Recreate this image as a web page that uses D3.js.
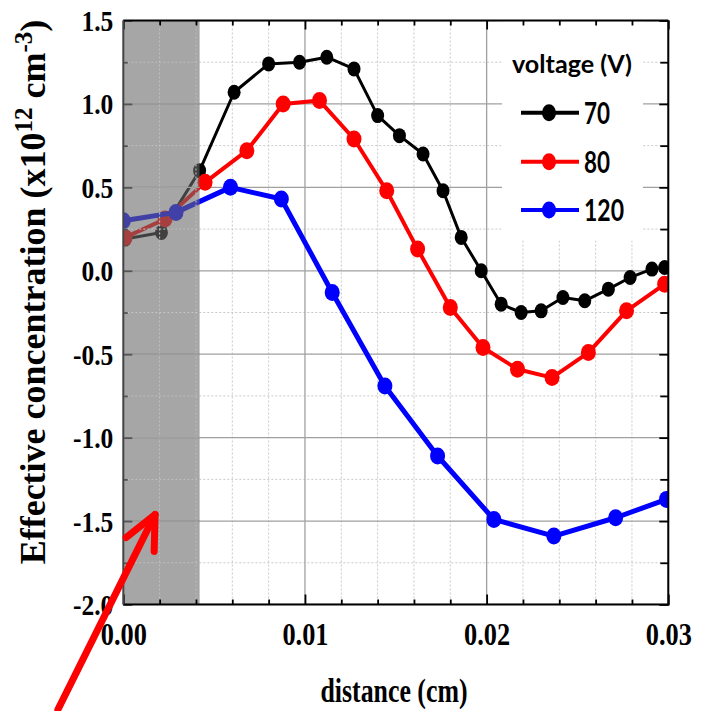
<!DOCTYPE html>
<html>
<head>
<meta charset="utf-8">
<script src="https://cdn.jsdelivr.net/npm/d3@7"></script>
<style>
  html, body { margin: 0; padding: 0; background: #fff; overflow: hidden; }
  svg { display: block; }
</style>
</head>
<body>
<svg id="chart" width="704" height="711"></svg>
<script>
// ---- data: effective concentration (x10^12 cm^-3) vs distance (cm) ----
const distance70 = [0.0001, 0.0021, 0.0042, 0.0061, 0.0080, 0.0097, 0.0112, 0.0127, 0.0140, 0.0152, 0.0165, 0.0176,
                    0.0186, 0.0197, 0.0208, 0.0219, 0.0230, 0.0242, 0.0254, 0.0267, 0.0279, 0.0291, 0.0298];
const conc70     = [0.19, 0.23, 0.60, 1.07, 1.24, 1.25, 1.28, 1.21, 0.93, 0.81, 0.70, 0.48,
                    0.20, 0.00, -0.20, -0.25, -0.24, -0.16, -0.18, -0.11, -0.04, 0.01, 0.02];

const distance80 = [0.0001, 0.0023, 0.0045, 0.0068, 0.0088, 0.0108, 0.0127, 0.0145, 0.0162, 0.0180, 0.0198, 0.0217,
                    0.0236, 0.0256, 0.0277, 0.0298];
const conc80     = [0.20, 0.31, 0.53, 0.72, 1.00, 1.02, 0.79, 0.48, 0.13, -0.22, -0.46, -0.59,
                    -0.64, -0.49, -0.24, -0.08];

const distance120 = [0.0000, 0.0029, 0.0059, 0.0087, 0.0115, 0.0144, 0.0173, 0.0204, 0.0237, 0.0271, 0.0299];
const conc120     = [0.30, 0.35, 0.50, 0.43, -0.13, -0.69, -1.11, -1.49, -1.59, -1.48, -1.37];

const voltages     = ["70", "80", "120"];
const seriesColors = ["#000000", "#ff0000", "#0000ff"];

const xTicks      = [0, 0.01, 0.02, 0.03];
const xTickLabels = ["0.00", "0.01", "0.02", "0.03"];
const yTicks      = [-2.0, -1.5, -1.0, -0.5, 0.0, 0.5, 1.0, 1.5];
const yTickLabels = ["-2.0", "-1.5", "-1.0", "-0.5", "0.0", "0.5", "1.0", "1.5"];
const xMinorTicks = [0.002, 0.004, 0.006, 0.008, 0.012, 0.014, 0.016, 0.018, 0.022, 0.024, 0.026, 0.028];
const yMinorTicks = [-1.75, -1.25, -0.75, -0.25, 0.25, 0.75, 1.25];

// shaded region near the surface (distance range, cm)
const shadedRange = [0, 0.0042];
// arrow annotation pointing into the shaded region (data coordinates)
const arrowTail = [-0.0036, -2.63];
const arrowTip  = [0.00175, -1.46];

// ---- layout ----
const W = 704, H = 711;
const plot = { left: 123.3, right: 668.3, top: 20.5, bottom: 604.5 };
const SERIF = "'Liberation Serif','Times New Roman',Times,serif";
const SANS  = "Lato,'Open Sans','Noto Sans',sans-serif";

const x = d3.scaleLinear().domain([0, 0.03]).range([plot.left, plot.right]);
const y = d3.scaleLinear().domain([-2, 1.5]).range([plot.bottom, plot.top]);

const svg = d3.select("#chart");
svg.append("rect").attr("width", W).attr("height", H).attr("fill", "#fff");

const defs = svg.append("defs");
defs.append("clipPath").attr("id", "plotClip")
  .append("rect").attr("x", plot.left).attr("y", plot.top)
  .attr("width", plot.right - plot.left).attr("height", plot.bottom - plot.top);
defs.append("clipPath").attr("id", "shadeClip")
  .append("rect").attr("x", x(shadedRange[0])).attr("y", plot.top)
  .attr("width", x(shadedRange[1]) - x(shadedRange[0])).attr("height", plot.bottom - plot.top);

// ---- gridlines ----
function drawGrid(g) {
  g.selectAll("line.xminor").data(xMinorTicks).join("line").attr("class", "xminor")
    .attr("x1", d => x(d)).attr("x2", d => x(d)).attr("y1", plot.top).attr("y2", plot.bottom)
    .attr("stroke", "#c8c8c8").attr("stroke-width", 1).attr("stroke-dasharray", "2,2");
  g.selectAll("line.yminor").data(yMinorTicks).join("line").attr("class", "yminor")
    .attr("x1", plot.left).attr("x2", plot.right).attr("y1", d => y(d)).attr("y2", d => y(d))
    .attr("stroke", "#c8c8c8").attr("stroke-width", 1).attr("stroke-dasharray", "2,2");
  g.selectAll("line.xmajor").data(xTicks).join("line").attr("class", "xmajor")
    .attr("x1", d => x(d)).attr("x2", d => x(d)).attr("y1", plot.top).attr("y2", plot.bottom)
    .attr("stroke", "#a0a0a0").attr("stroke-width", 1.3);
  g.selectAll("line.ymajor").data(yTicks).join("line").attr("class", "ymajor")
    .attr("x1", plot.left).attr("x2", plot.right).attr("y1", d => y(d)).attr("y2", d => y(d))
    .attr("stroke", "#a0a0a0").attr("stroke-width", 1.3);
}
drawGrid(svg.append("g").attr("clip-path", "url(#plotClip)"));

// legend panel hides the grid behind it
svg.append("rect").attr("x", 502).attr("y", plot.top + 1).attr("width", 141).attr("height", 219).attr("fill", "#fff");

// ---- series ----
const series = [
  { xs: distance70,  ys: conc70,  color: seriesColors[0], width: 3,   rx: 6.5, ry: 7.5 },
  { xs: distance80,  ys: conc80,  color: seriesColors[1], width: 4,   rx: 7.5, ry: 8.5 },
  { xs: distance120, ys: conc120, color: seriesColors[2], width: 5,   rx: 7.5, ry: 8.5 }
];
const line = d3.line().x(d => x(d[0])).y(d => y(d[1]));
const dataG = svg.append("g").attr("clip-path", "url(#plotClip)");
series.forEach(s => {
  const pts = s.xs.map((d, i) => [d, s.ys[i]]);
  dataG.append("path").datum(pts).attr("d", line)
    .attr("fill", "none").attr("stroke", s.color).attr("stroke-width", s.width)
    .attr("stroke-linejoin", "round");
  dataG.selectAll(null).data(pts).join("ellipse")
    .attr("cx", d => x(d[0])).attr("cy", d => y(d[1]))
    .attr("rx", s.rx).attr("ry", s.ry).attr("fill", s.color);
});

// ---- translucent grey band over the near-surface region ----
svg.append("rect")
  .attr("x", x(shadedRange[0])).attr("y", plot.top)
  .attr("width", x(shadedRange[1]) - x(shadedRange[0])).attr("height", plot.bottom - plot.top)
  .attr("fill", "rgb(107,107,107)").attr("fill-opacity", 0.6);
drawGrid(svg.append("g").attr("clip-path", "url(#shadeClip)"));

// ---- axes (ticks point inward on all four sides) ----
function styleAxis(g, color) {
  g.select(".domain").remove();
  g.selectAll(".tick line").attr("stroke", color).attr("stroke-width", 1.8);
}
const leftMajor = svg.append("g").attr("transform", `translate(${plot.left},0)`)
  .call(d3.axisLeft(y).tickValues(yTicks).tickSizeInner(-9).tickSizeOuter(0).tickPadding(10)
    .tickFormat((d, i) => yTickLabels[i]));
styleAxis(leftMajor, "#555");
leftMajor.selectAll(".tick text")
  .attr("x", null).attr("dy", null)
  .attr("transform", "translate(-10,10) scale(0.85,1)")
  .attr("text-anchor", "end")
  .style("font-family", SERIF).style("font-weight", "bold").style("font-size", "30px").attr("fill", "#000");
styleAxis(svg.append("g").attr("transform", `translate(${plot.left},0)`)
  .call(d3.axisLeft(y).tickValues(yMinorTicks).tickSize(-4.5).tickFormat("")), "#555");

const rightG = svg.append("g").attr("transform", `translate(${plot.right},0)`);
styleAxis(rightG.append("g").call(d3.axisRight(y).tickValues(yTicks).tickSize(-9).tickFormat("")), "#000");
styleAxis(rightG.append("g").call(d3.axisRight(y).tickValues(yMinorTicks).tickSize(-8).tickFormat("")), "#000");

const bottomMajor = svg.append("g").attr("transform", `translate(0,${plot.bottom})`)
  .call(d3.axisBottom(x).tickValues(xTicks).tickSizeInner(-10).tickSizeOuter(0).tickPadding(10)
    .tickFormat((d, i) => xTickLabels[i]));
styleAxis(bottomMajor, "#000");
bottomMajor.selectAll(".tick text")
  .attr("y", null).attr("dy", null)
  .attr("transform", "translate(0,40) scale(0.85,1)")
  .attr("text-anchor", "middle")
  .style("font-family", SERIF).style("font-weight", "bold").style("font-size", "31px").attr("fill", "#000");
styleAxis(svg.append("g").attr("transform", `translate(0,${plot.bottom})`)
  .call(d3.axisBottom(x).tickValues(xMinorTicks).tickSize(-5).tickFormat("")), "#000");

const topG = svg.append("g").attr("transform", `translate(0,${plot.top})`);
styleAxis(topG.append("g").call(d3.axisTop(x).tickValues(xTicks).tickSize(-9).tickFormat("")), "#000");
styleAxis(topG.append("g").call(d3.axisTop(x).tickValues(xMinorTicks).tickSize(-5).tickFormat("")), "#000");

// frame
svg.append("line").attr("x1", plot.left).attr("x2", plot.right).attr("y1", plot.top).attr("y2", plot.top)
  .attr("stroke", "#000").attr("stroke-width", 2);
svg.append("line").attr("x1", plot.right).attr("x2", plot.right).attr("y1", plot.top).attr("y2", plot.bottom + 1)
  .attr("stroke", "#000").attr("stroke-width", 2);
svg.append("line").attr("x1", plot.left).attr("x2", plot.right + 1).attr("y1", plot.bottom).attr("y2", plot.bottom)
  .attr("stroke", "#000").attr("stroke-width", 2.2);
svg.append("line").attr("x1", plot.left).attr("x2", plot.left).attr("y1", plot.top).attr("y2", plot.bottom)
  .attr("stroke", "#444").attr("stroke-width", 2);

// ---- axis titles ----
svg.append("g").attr("transform", "translate(394,702) scale(0.76,1)")
  .append("text").attr("text-anchor", "middle")
  .style("font-family", SERIF).style("font-weight", "bold").style("font-size", "34px")
  .text("distance (cm)");

const yTitle = svg.append("text")
  .attr("transform", "translate(45,292) rotate(-90)")
  .attr("text-anchor", "middle")
  .style("font-family", SERIF).style("font-weight", "bold").style("font-size", "36px");
yTitle.append("tspan").text("Effective concentration (x10");
yTitle.append("tspan").attr("dy", -13).style("font-size", "25px").text("12");
yTitle.append("tspan").attr("dy", 13).text(" cm");
yTitle.append("tspan").attr("dy", -13).style("font-size", "25px").text("-3");
yTitle.append("tspan").attr("dy", 13).text(")");

// ---- legend ----
function fitText(g, str, size, targetWidth) {
  const t = g.append("text").style("font-family", SANS).style("font-weight", "bold")
    .style("font-size", size + "px").attr("fill", "#000").text(str);
  const n = t.node().getComputedTextLength();
  t.attr("transform", `scale(${targetWidth / n},1)`);
  return t;
}
fitText(svg.append("g").attr("transform", "translate(512,73)"), "voltage (V)", 25, 120);
const legendRows = [112.7, 161.7, 210];
const labelWidths = [26, 26, 40];
voltages.forEach((v, i) => {
  const ry = legendRows[i];
  svg.append("line").attr("x1", 521).attr("x2", 579).attr("y1", ry).attr("y2", ry)
    .attr("stroke", seriesColors[i]).attr("stroke-width", 4);
  svg.append("ellipse").attr("cx", 549).attr("cy", ry).attr("rx", 7).attr("ry", 8.5).attr("fill", seriesColors[i]);
  fitText(svg.append("g").attr("transform", `translate(584,${ry + 11})`), v, 30, labelWidths[i]);
});

// ---- arrow annotation ----
const arrowG = svg.append("g").attr("stroke", "#ff0000").attr("stroke-width", 7)
  .attr("fill", "none").attr("stroke-linecap", "round").attr("stroke-linejoin", "round");
const tx = x(arrowTip[0]), ty = y(arrowTip[1]);
const sx = x(arrowTail[0]), sy = y(arrowTail[1]);
arrowG.append("line").attr("x1", sx).attr("y1", sy).attr("x2", tx).attr("y2", ty);
const ang = Math.atan2(sy - ty, sx - tx);
const headLen = 37, spread = 25 * Math.PI / 180;
arrowG.append("path").attr("d",
  `M${tx + headLen * Math.cos(ang - spread)},${ty + headLen * Math.sin(ang - spread)}` +
  `L${tx},${ty}` +
  `L${tx + headLen * Math.cos(ang + spread)},${ty + headLen * Math.sin(ang + spread)}`);
</script>
</body>
</html>
